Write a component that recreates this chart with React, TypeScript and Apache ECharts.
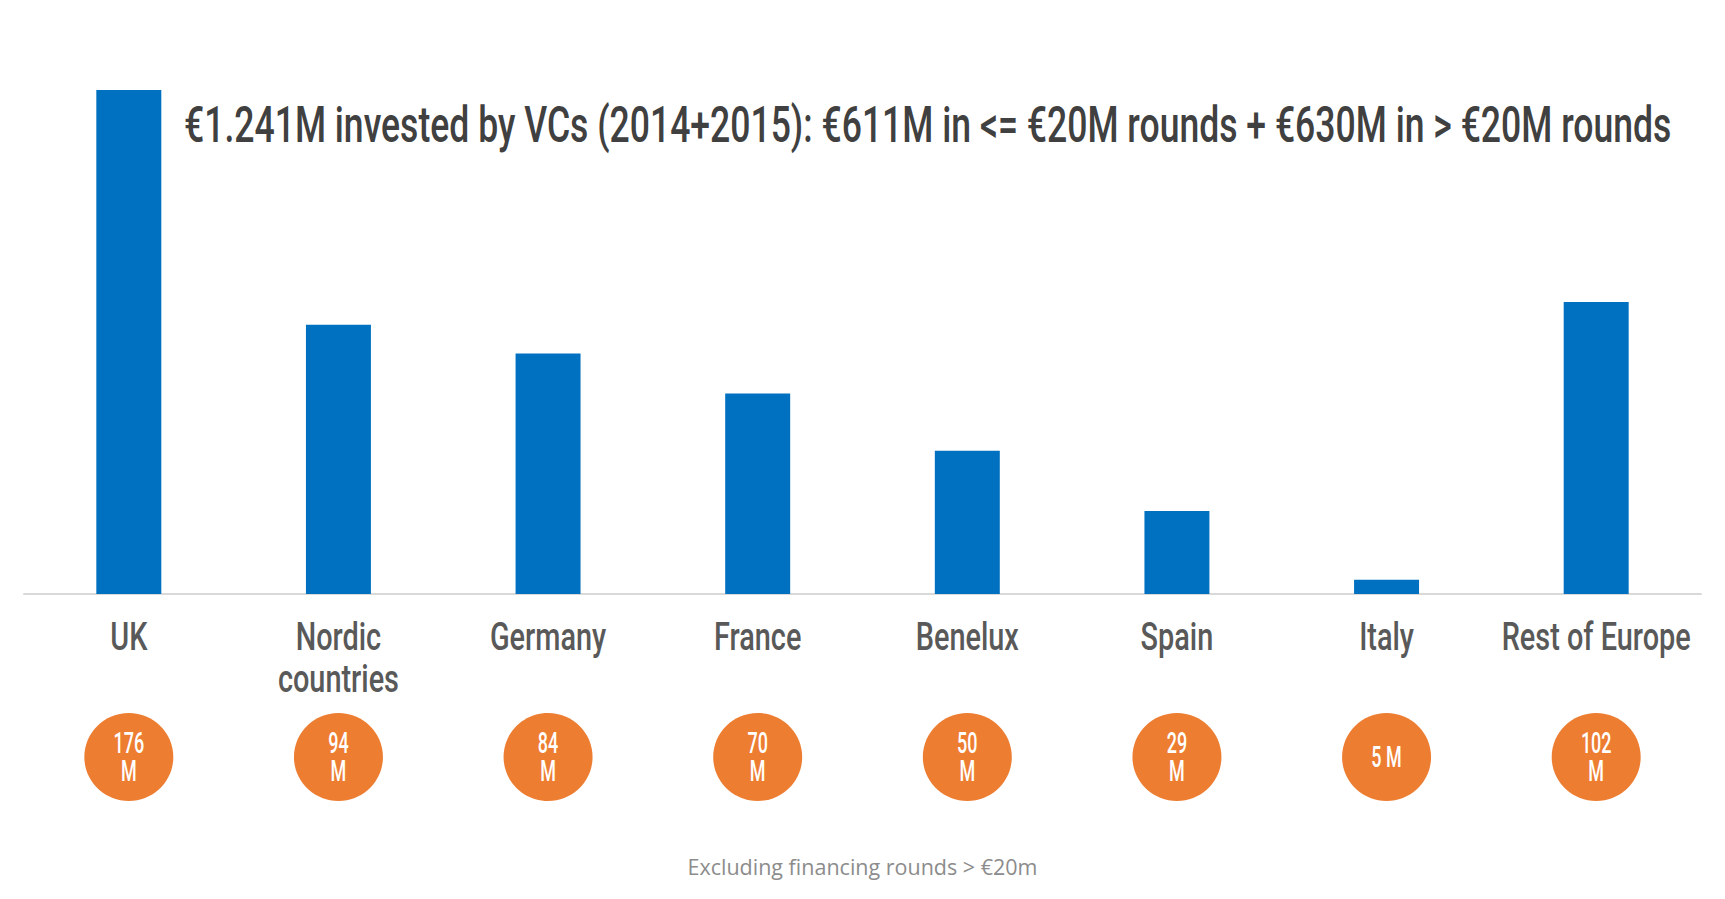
import React, { useEffect, useRef } from "react";
import * as echarts from "echarts";

const categories = ["UK", "Nordic\ncountries", "Germany", "France", "Benelux", "Spain", "Italy", "Rest of Europe"];
const investedM = [176, 94, 84, 70, 50, 29, 5, 102];
const circleLabels = ["176\nM", "94\nM", "84\nM", "70\nM", "50\nM", "29\nM", "5 M", "102\nM"];
const titleText = "€1.241M invested by VCs (2014+2015): €611M in <= €20M rounds + €630M in > €20M rounds";
const footnote = "Excluding financing rounds > €20m";

const FONT = "Roboto, 'Noto Sans', sans-serif";

export default function App() {
  const ref = useRef<HTMLDivElement>(null);
  useEffect(() => {
    document.body.style.margin = "0";
    if (!ref.current) return;
    const chart = echarts.init(ref.current, null, { renderer: "svg" });
    chart.setOption({
      animation: false,
      backgroundColor: "#ffffff",
      title: [
        {
          text: footnote,
          left: "center",
          top: 850,
          textStyle: { fontFamily: "'Open Sans', sans-serif", fontSize: 21.5, fontWeight: "normal", color: "#8c8c8c" },
        },
      ],
      graphic: [
        {
          type: "text",
          x: 184,
          y: 125,
          scaleX: 0.711,
          style: {
            text: titleText,
            fontFamily: FONT,
            fontSize: 50,
            fontWeight: 500,
            fill: "#404040",
            align: "left",
            verticalAlign: "middle",
          },
        },
      ],
      grid: [
        { left: 24, width: 1677, top: 90, height: 504, containLabel: false },
        { left: 24, width: 1677, top: 697, height: 120, containLabel: false },
      ],
      xAxis: [
        {
          type: "category",
          data: categories,
          gridIndex: 0,
          axisLine: { lineStyle: { color: "#D9D9D9", width: 2 } },
          axisTick: { show: false },
          axisLabel: { show: false },
        },
        { type: "category", data: categories, gridIndex: 1, show: false },
      ],
      yAxis: [
        { type: "value", gridIndex: 0, min: 0, max: 176, show: false, splitLine: { show: false } },
        { type: "value", gridIndex: 1, min: -1, max: 1, show: false, splitLine: { show: false } },
      ],
      series: [
        {
          type: "bar",
          xAxisIndex: 0,
          yAxisIndex: 0,
          data: investedM,
          barWidth: "31%",
          itemStyle: { color: "#0070C0" },
        },
        {
          type: "custom",
          xAxisIndex: 0,
          yAxisIndex: 0,
          clip: false,
          silent: true,
          data: categories.map((c, i) => [i, 0]),
          renderItem: (params: any, api: any) => {
            const i = api.value(0);
            const pt = api.coord([i, 0]);
            return {
              type: "text",
              x: pt[0],
              y: pt[1] + 22,
              scaleX: 0.76,
              style: {
                text: categories[params.dataIndex],
                fontFamily: FONT,
                fontSize: 38,
                fontWeight: 500,
                lineHeight: 42,
                fill: "#595959",
                align: "center",
                verticalAlign: "top",
              },
            };
          },
        },
        {
          type: "custom",
          xAxisIndex: 1,
          yAxisIndex: 1,
          clip: false,
          silent: true,
          data: investedM.map((v, i) => [i, 0, v]),
          renderItem: (params: any, api: any) => {
            const pt = api.coord([api.value(0), api.value(1)]);
            return {
              type: "group",
              children: [
                {
                  type: "ellipse",
                  shape: { cx: pt[0], cy: pt[1], rx: 44.5, ry: 44 },
                  style: { fill: "#ED7D31" },
                },
                {
                  type: "text",
                  x: pt[0],
                  y: pt[1],
                  scaleX: 0.62,
                  style: {
                    text: circleLabels[params.dataIndex],
                    fontFamily: FONT,
                    fontSize: 29,
                    fontWeight: 500,
                    lineHeight: 28,
                    fill: "#ffffff",
                    align: "center",
                    verticalAlign: "middle",
                  },
                },
              ],
            };
          },
        },
      ],
    });
    return () => chart.dispose();
  }, []);
  return <div ref={ref} style={{ width: 1725, height: 899 }} />;
}
